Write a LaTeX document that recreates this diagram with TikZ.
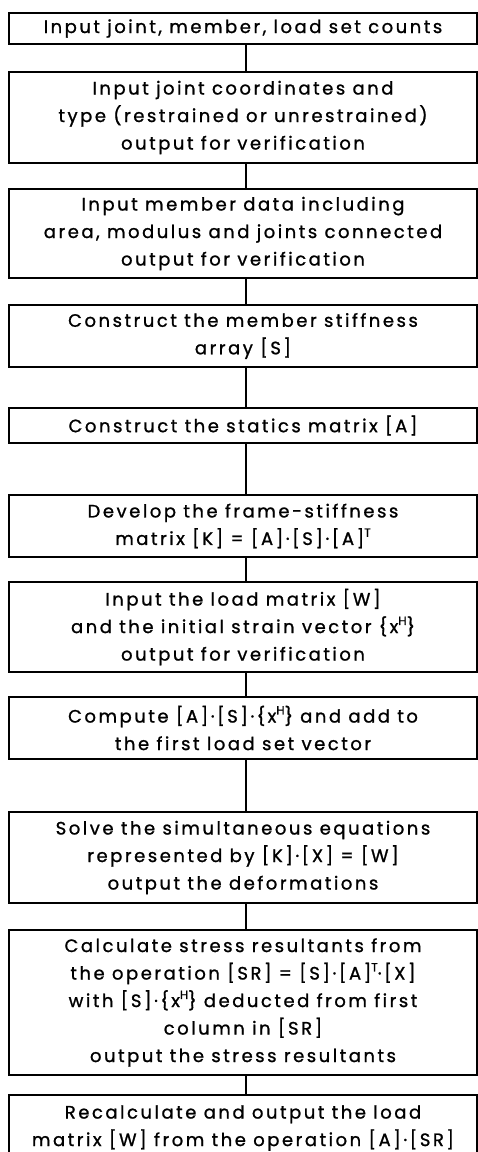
\documentclass[tikz,border=0pt]{standalone}
\usepackage{fontspec}
\setmainfont{Poppins}[LetterSpace=14, FakeBold=1.1]
\newcommand{\suptxt}[1]{\raisebox{0.45em}{\fontsize{12}{12}\selectfont #1}}
\begin{document}
\begin{tikzpicture}[x=1pt,y=-1pt,
  stepbox/.style={draw, line width=1.6pt, minimum width=468pt, inner sep=0pt,
    align=center, font=\fontsize{18}{27.5}\selectfont},
  link/.style={line width=1.8pt}]
\clip (0,0) rectangle (478,1152);
\node[stepbox, minimum height=31pt] (b1) at (243,28.5) {Input joint, member, load set counts};
\node[stepbox, minimum height=91pt] (b2) at (243,117.5) {Input joint coordinates and\\type (restrained or unrestrained)\\output for verification};
\node[stepbox, minimum height=89pt] (b3) at (243,233.5) {Input member data including\\area, modulus and joints connected\\output for verification};
\node[stepbox, minimum height=62pt] (b4) at (243,336) {Construct the member stiffness\\array [S]};
\node[stepbox, minimum height=35pt] (b5) at (243,425.5) {Construct the statics matrix [A]};
\node[stepbox, minimum height=62pt] (b6) at (243,526) {Develop the frame-stiffness\\matrix [K] = [A]·[S]·[A]\suptxt{T}};
\node[stepbox, minimum height=90pt] (b7) at (243,627) {Input the load matrix [W]\\and the initial strain vector \{x\suptxt{H}\}\\output for verification};
\node[stepbox, minimum height=62pt] (b8) at (243,728) {Compute [A]·[S]·\{x\suptxt{H}\} and add to\\the first load set vector};
\node[stepbox, minimum height=91pt] (b9) at (243,857.5) {Solve the simultaneous equations\\represented by [K]·[X] = [W]\\output the deformations};
\node[stepbox, minimum height=145pt] (b10) at (243,1002.5) {Calculate stress resultants from\\the operation [SR] = [S]·[A]\suptxt{T}·[X]\\with [S]·\{x\suptxt{H}\} deducted from first\\column in [SR]\\output the stress resultants};
\node[stepbox, minimum height=66pt] (b11) at (243,1128) {Recalculate and output the load\\matrix [W] from the operation [A]·[SR]};
\foreach \a/\b in {b1/b2,b2/b3,b3/b4,b4/b5,b5/b6,b6/b7,b7/b8,b8/b9,b9/b10,b10/b11}
  \draw[link] ([xshift=3pt]\a.south) -- ([xshift=3pt]\b.north);
\end{tikzpicture}
\end{document}
